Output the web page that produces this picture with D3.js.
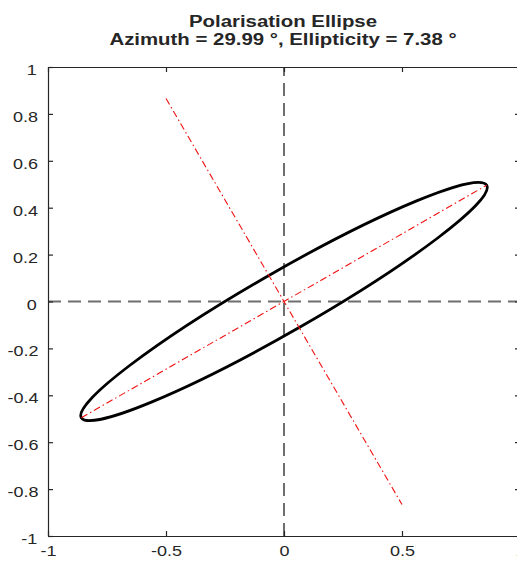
<!DOCTYPE html>
<html>
<head>
<meta charset="utf-8">
<script src="https://cdn.jsdelivr.net/npm/d3@7"></script>
<style>
  html, body { margin: 0; padding: 0; background: #fff; overflow: hidden; }
  svg text { font-family: "Liberation Sans", Arial, Helvetica, sans-serif; fill: #262626; }
  .wide { transform-box: fill-box; transform-origin: center; transform: scaleX(1.2); }
</style>
</head>
<body>
<svg id="chart" width="517" height="566"></svg>
<script>
// ---- data ----
const titleLines = ["Polarisation Ellipse", "Azimuth = 29.99 °, Ellipticity = 7.38 °"];
const azimuthDeg = 29.99;
const ellipticityDeg = 7.38;
const semiAxes = [0.9917, 0.1284];          // semi-major, semi-minor (normalised field)
const majorLine = [[-0.8588, -0.4958], [0.8588, 0.4958]];
const minorLine = [[-0.5, 0.866], [0.5, -0.866]];
const zeroXLine = [[-1, 0], [1, 0]];
const zeroYLine = [[0, -1], [0, 1]];
const xDomain = [-1, 1];
const yDomain = [-1, 1];
const xTicks = [-1, -0.5, 0, 0.5, 1];
const xTickLabels = ["-1", "-0.5", "0", "0.5", "1"];
const yTicks = [-1, -0.8, -0.6, -0.4, -0.2, 0, 0.2, 0.4, 0.6, 0.8, 1];
const yTickLabels = ["-1", "-0.8", "-0.6", "-0.4", "-0.2", "0", "0.2", "0.4", "0.6", "0.8", "1"];

// ---- layout ----
const svg = d3.select("#chart");
const L = 48, R = 520, T = 67, B = 536;
const x = d3.scaleLinear().domain(xDomain).range([L, R]);
const y = d3.scaleLinear().domain(yDomain).range([B, T]);
const axisColor = "#262626";

// title
svg.selectAll("text.title").data(titleLines).enter().append("text")
  .attr("class", "title wide")
  .attr("x", (L + R) / 2 - 1)
  .attr("y", (d, i) => 27 + i * 18.5)
  .attr("text-anchor", "middle")
  .attr("font-size", 17)
  .attr("font-weight", "bold")
  .text(d => d);

const line = d3.line().x(d => x(d[0])).y(d => y(d[1]));

// zero dashed lines
[zeroXLine, zeroYLine].forEach(pts => {
  svg.append("path").attr("d", line(pts))
    .attr("fill", "none").attr("stroke", "#6e6e6e")
    .attr("stroke-width", 2).attr("stroke-dasharray", "13,7");
});

// ellipse
const kx = x(1) - x(0), ky = y(0) - y(1);
svg.append("ellipse")
  .attr("cx", 0).attr("cy", 0)
  .attr("rx", semiAxes[0]).attr("ry", semiAxes[1])
  .attr("transform", `translate(${x(0)},${y(0)}) scale(${kx},${-ky}) rotate(${azimuthDeg})`)
  .attr("fill", "none").attr("stroke", "#000")
  .attr("stroke-width", 2.8)
  .attr("vector-effect", "non-scaling-stroke");

// red dash-dot axes of ellipse
[majorLine, minorLine].forEach(pts => {
  svg.append("path").attr("d", line(pts))
    .attr("fill", "none").attr("stroke", "#f01010")
    .attr("stroke-width", 1.1).attr("stroke-dasharray", "7,3,1.5,3");
});

// axes
function styleAxis(g) {
  g.select(".domain").attr("stroke", axisColor).attr("stroke-width", 1.2);
  g.selectAll(".tick line").attr("stroke", axisColor).attr("stroke-width", 1.2);
  g.selectAll(".tick text").attr("class", "wide").attr("font-size", 15)
    .attr("fill", axisColor).attr("font-family", null);
}
const gx = svg.append("g").attr("transform", `translate(0,${B})`)
  .call(d3.axisBottom(x).tickValues(xTicks).tickFormat((d, i) => xTickLabels[i])
    .tickSizeInner(-5).tickSizeOuter(0).tickPadding(7));
styleAxis(gx);
gx.selectAll(".tick text").attr("dy", "0.85em");
const gxt = svg.append("g").attr("transform", `translate(0,${T})`)
  .call(d3.axisTop(x).tickValues(xTicks).tickFormat("").tickSizeInner(-5).tickSizeOuter(0));
styleAxis(gxt);
const gy = svg.append("g").attr("transform", `translate(${L},0)`)
  .call(d3.axisLeft(y).tickValues(yTicks).tickFormat((d, i) => yTickLabels[i])
    .tickSizeInner(-5).tickSizeOuter(0).tickPadding(12));
styleAxis(gy);
gy.selectAll(".tick text").attr("dy", "0.5em");
const gyr = svg.append("g").attr("transform", `translate(${R},0)`)
  .call(d3.axisRight(y).tickValues(yTicks).tickFormat("").tickSizeInner(-5).tickSizeOuter(0));
styleAxis(gyr);
</script>
</body>
</html>
